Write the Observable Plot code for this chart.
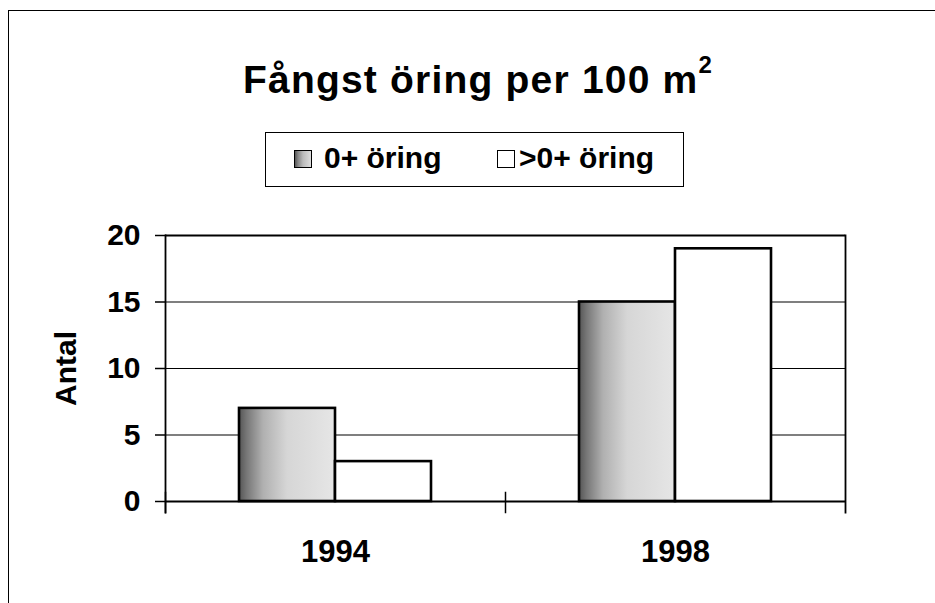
<!DOCTYPE html>
<html>
<head>
<meta charset="utf-8">
<script src="https://cdn.jsdelivr.net/npm/d3@7"></script>
<script src="https://cdn.jsdelivr.net/npm/@observablehq/plot@0.6"></script>
<style>
  html, body { margin: 0; padding: 0; background: #fff; }
  #wrap { position: relative; width: 935px; height: 603px; overflow: hidden; font-family: "Liberation Sans", Arial, sans-serif; color: #000; }
  #outer { position: absolute; left: 8px; top: 10px; width: 940px; height: 600px; border-top: 1.5px solid #000; border-left: 1.5px solid #000; }
  #title { position: absolute; left: 243px; top: 60px; font-size: 39px; line-height: 39px; font-weight: bold; letter-spacing: 1.2px; white-space: nowrap; }
  #title sup { font-size: 24px; vertical-align: 20px; line-height: 0; }
  #legend { position: absolute; left: 265px; top: 132px; width: 419px; height: 55px; border: 1.5px solid #000; box-sizing: border-box; }
  .sw { position: absolute; top: 17px; width: 18px; height: 18px; box-sizing: border-box; border: 1.5px solid #000; }
  .lt { position: absolute; top: 10px; font-size: 30px; line-height: 30px; font-weight: bold; white-space: nowrap; }
  #chart { position: absolute; left: 0; top: 0; }
</style>
</head>
<body>
<svg width="0" height="0" style="position:absolute">
  <defs>
    <linearGradient id="grad0" x1="0" x2="1" y1="0" y2="0">
      <stop offset="0" stop-color="#555"/>
      <stop offset="0.08" stop-color="#777"/>
      <stop offset="0.25" stop-color="#b0b0b0"/>
      <stop offset="0.5" stop-color="#d6d6d6"/>
      <stop offset="1" stop-color="#e6e6e6"/>
    </linearGradient>
  </defs>
</svg>
<div id="wrap">
  <div id="outer"></div>
  <div id="title"></div>
  <div id="legend"></div>
  <div id="chart"></div>
</div>
<script>
// ---- data ----
const titleText = "Fångst öring per 100 m";
const titleSup = "2";
const years = ["1994", "1998"];
const seriesNames = ["0+ öring", ">0+ öring"];
const values0plus = [7, 15];
const valuesOver0 = [3, 19];
const yTicks = [0, 5, 10, 15, 20];
const yLabel = "Antal";

const seriesFills = ["url(#grad0)", "#ffffff"];
const swatchFills = ["linear-gradient(to right, #555 0%, #888 20%, #bbb 50%, #ddd 100%)", "#ffffff"];

const data = years.flatMap((yr, i) => [
  {year: yr, series: seriesNames[0], value: values0plus[i]},
  {year: yr, series: seriesNames[1], value: valuesOver0[i]}
]);

// ---- title & legend (HTML) ----
const t = document.getElementById("title");
t.textContent = titleText;
const sup = document.createElement("sup");
sup.textContent = titleSup;
t.appendChild(sup);

const lg = document.getElementById("legend");
const swX = [28, 231];
const txX = [58, 253];
seriesNames.forEach((name, i) => {
  const sw = document.createElement("div");
  sw.className = "sw";
  sw.style.left = swX[i] + "px";
  sw.style.background = swatchFills[i];
  lg.appendChild(sw);
  const tx = document.createElement("div");
  tx.className = "lt";
  tx.style.left = txX[i] + "px";
  tx.textContent = name;
  lg.appendChild(tx);
});

// ---- chart ----
const font = {fontSize: 30, fontWeight: "bold"};
const chart = Plot.plot({
  width: 935,
  height: 603,
  marginLeft: 165,
  marginRight: 90,
  marginTop: 235,
  marginBottom: 102,
  style: {fontFamily: "'Liberation Sans', Arial, sans-serif", background: "transparent", color: "#000"},
  fx: {domain: years, padding: 0, label: null},
  x: {domain: seriesNames, paddingInner: 0, paddingOuter: 0.7526, axis: null},
  y: {domain: [0, 20], label: null},
  marks: [
    Plot.ruleY(yTicks.filter(v => v > 0 && v < 20), {stroke: "#000", strokeWidth: 1.2}),
    ...seriesNames.map((s, i) =>
      Plot.barY(data.filter(d => d.series === s), {
        fx: "year", x: "series", y: "value",
        fill: seriesFills[i], stroke: "#000", strokeWidth: 2.6
      })
    ),
    Plot.ruleY([0], {stroke: "#000", strokeWidth: 2}),
    Plot.ruleY([20], {stroke: "#000", strokeWidth: 1.8}),
    Plot.frame({facet: "super", anchor: "left", insetBottom: -11, stroke: "#000", strokeWidth: 1.8}),
    Plot.frame({facet: "super", anchor: "right", insetBottom: -11, stroke: "#000", strokeWidth: 1.8}),
    Plot.frame({anchor: "left", insetTop: 257, insetBottom: -11, stroke: "#000", strokeWidth: 1.5}),
    Plot.axisY({ticks: yTicks, tickSize: 10, tickPadding: 15, tickFormat: d => String(d), ...font,
      label: yLabel, labelArrow: "none", labelAnchor: "center", labelOffset: 111, strokeWidth: 1.5}),
    Plot.axisFx({anchor: "bottom", tickSize: 0, tickPadding: 38, label: null, ...font, fontSize: 31})
  ]
});
document.getElementById("chart").appendChild(chart);
</script>
</body>
</html>
